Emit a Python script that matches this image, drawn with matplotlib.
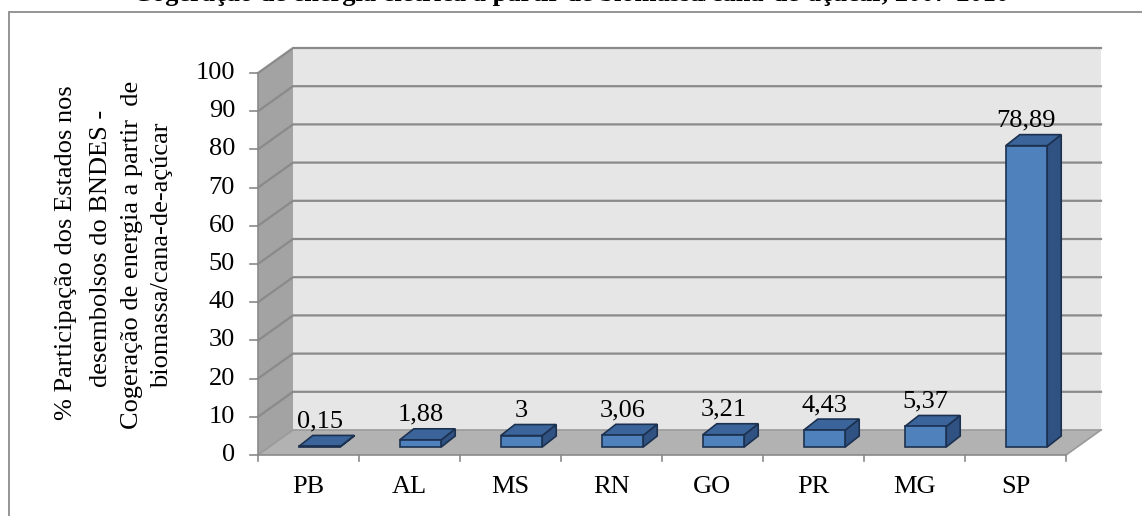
import matplotlib.pyplot as plt
from matplotlib.patches import Polygon, Rectangle

estados = ['PB', 'AL', 'MS', 'RN', 'GO', 'PR', 'MG', 'SP']
participacao = [0.15, 1.88, 3.00, 3.06, 3.21, 4.43, 5.37, 78.89]
rotulos = ['0,15', '1,88', '3', '3,06', '3,21', '4,43', '5,37', '78,89']
yticks = list(range(0, 101, 10))

titulo = 'Cogeração de energia elétrica a partir de biomassa/cana-de-açúcar, 2007-2010'
ylabel_linhas = ['% Participação dos Estados nos',
                 'desembolsos do BNDES -',
                 'Cogeração de energia a partir  de',
                 'biomassa/cana-de-açúcar']

plt.rcParams['font.family'] = ['Liberation Serif', 'DejaVu Serif']
FS = 19

W, H, DPI = 1142, 516, 100
fig = plt.figure(figsize=(W / DPI, H / DPI), dpi=DPI)

# eixo frontal (plano da frente do gráfico 3D)
x0, x1, y0, y1 = 258, 1066, 455, 73
ax = fig.add_axes([x0 / W, 1 - y0 / H, (x1 - x0) / W, (y0 - y1) / H])
n = len(estados)
ax.set_xlim(-0.5, n - 0.5)
ax.set_ylim(0, 100)
ax.axis('off')

# conversão de pixels para unidades de dados
px_x = (x1 - x0) / n
px_y = (y0 - y1) / 100.0
def desloc(dx, dy):
    return dx / px_x, dy / px_y

PX, PY = desloc(35, 25)      # profundidade das paredes
BX, BY = desloc(11, 8)       # posição da face frontal das barras
DX, DY = desloc(14, 11)      # profundidade das barras
largura = 0.41

cinza_linha = '#8a8a8a'
kw = dict(clip_on=False)

# parede do fundo
ax.add_patch(Rectangle((-0.5 + PX, PY), n, 100, facecolor='#e6e6e6',
                       edgecolor='none', zorder=1, **kw))
# parede lateral
ax.add_patch(Polygon([(-0.5, 0), (-0.5 + PX, PY), (-0.5 + PX, 100 + PY), (-0.5, 100)],
                     facecolor='#a3a3a3', edgecolor='none', zorder=1, **kw))
# piso
ax.add_patch(Polygon([(-0.5, 0), (n - 0.5, 0), (n - 0.5 + PX, PY), (-0.5 + PX, PY)],
                     facecolor='#b2b2b2', edgecolor='none', zorder=2, **kw))

# linhas de grade
for v in yticks[1:]:
    ax.plot([-0.5, -0.5 + PX, n - 0.5 + PX], [v, v + PY, v + PY],
            color=cinza_linha, lw=1.6, zorder=1.5, **kw)
ax.plot([-0.5, -0.5 + PX, n - 0.5 + PX], [0, PY, PY], color='#9a9a9a', lw=1.2, zorder=2.5, **kw)
ax.plot([n - 0.5, n - 0.5 + PX], [0, PY], color='#9a9a9a', lw=1.2, zorder=2.5, **kw)

# eixos frontais com marcas
ax.plot([-0.5, -0.5], [0, 100], color=cinza_linha, lw=1.2, zorder=3, **kw)
ax.plot([-0.5, n - 0.5], [0, 0], color=cinza_linha, lw=1.2, zorder=3, **kw)
tx, _ = desloc(8, 0)
_, ty = desloc(0, 6)
gap, _ = desloc(23, 0)
for v in yticks:
    ax.plot([-0.5 - tx, -0.5], [v, v], color=cinza_linha, lw=1.2, **kw)
    ax.text(-0.5 - gap, v, str(v), ha='right', va='center', fontsize=FS, **kw)
for i in range(n + 1):
    ax.plot([i - 0.5, i - 0.5], [0, -ty], color=cinza_linha, lw=1.2, **kw)
_, cy = desloc(0, 21)
for i, e in enumerate(estados):
    ax.text(i, -cy, e, ha='center', va='top', fontsize=FS, **kw)

# barras 3D
frente = '#4f81bd'
topo = '#3b659a'
lado = '#2f5283'
borda = '#1c3150'
_, ly = desloc(0, 19)
for i, (v, r) in enumerate(zip(participacao, rotulos)):
    xl = i - largura / 2 + BX
    xr = i + largura / 2 + BX
    yb, yt = BY, v + BY
    ax.add_patch(Polygon([(xr, yb), (xr + DX, yb + DY), (xr + DX, yt + DY), (xr, yt)],
                         facecolor=lado, edgecolor=borda, lw=1.2, zorder=4, **kw))
    ax.add_patch(Polygon([(xl, yt), (xr, yt), (xr + DX, yt + DY), (xl + DX, yt + DY)],
                         facecolor=topo, edgecolor=borda, lw=1.2, zorder=4, **kw))
    ax.add_patch(Rectangle((xl, yb), xr - xl, v, facecolor=frente,
                           edgecolor=borda, lw=1.2, zorder=5, **kw))
    ax.text(i + BX, yt + ly, r, ha='center', va='baseline', fontsize=FS, zorder=6, **kw)

# rótulo do eixo y em quatro linhas
for xl_, yc, linha in zip([66, 101, 132, 162], [253, 248, 255, 255], ylabel_linhas):
    fig.text(xl_ / W, 1 - yc / H, linha, rotation=90, ha='center', va='center', fontsize=FS)

# título (cortado no topo da imagem)
fig.text(0.5, 1 - 1.5 / H, titulo, ha='center', va='baseline', fontsize=FS, fontweight='bold')

# moldura da área do gráfico
fig.patches.append(Rectangle((9 / W, -0.1), 1.2, 1 - 12 / H + 0.1, transform=fig.transFigure,
                             facecolor='none', edgecolor='#8c8c8c', lw=1.3, figure=fig))

fig.savefig('out.png', dpi=DPI)
